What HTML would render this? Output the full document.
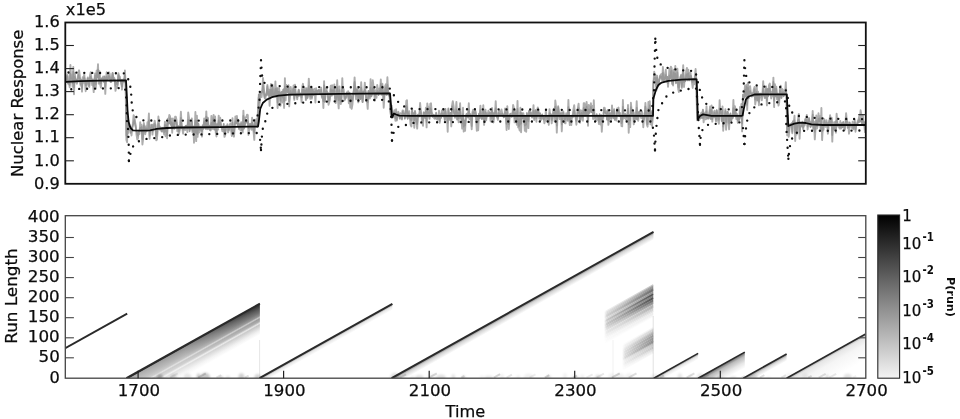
<!DOCTYPE html>
<html><head><meta charset="utf-8"><title>Changepoint detection</title>
<style>
html,body{margin:0;padding:0;background:#fff;}
body{width:960px;height:419px;overflow:hidden;}
svg{display:block;}
text{font-family:'DejaVu Sans','Liberation Sans',sans-serif;fill:#0c0c0c;stroke:#0c0c0c;stroke-width:0.25px;}
.tk{font-size:16.2px;}
.lb{font-size:16.2px;}
.cb{font-size:15px;}
.sup{font-size:11.4px;font-weight:bold;stroke-width:0;}
.pl{font-size:11.2px;font-weight:bold;stroke-width:0;}
</style></head><body>
<svg width="960" height="419" viewBox="0 0 960 419">
<defs>
<linearGradient id="cb" x1="0" y1="0" x2="0" y2="1">
<stop offset="0" stop-color="#000"/><stop offset="0.5" stop-color="#7e7e7e"/><stop offset="1" stop-color="#f4f4f4"/>
</linearGradient>
<clipPath id="ctop"><rect x="65.3" y="22.5" width="800.5" height="161.3"/></clipPath>
<clipPath id="cbot"><rect x="65.3" y="215.7" width="800.5" height="162.5"/></clipPath>

<linearGradient id="g2" gradientUnits="userSpaceOnUse" x1="126.40" y1="378.20" x2="139.60" y2="401.83"><stop offset="0.000" stop-color="#2a2a2a" stop-opacity="1"/><stop offset="0.065" stop-color="#3a3a3a" stop-opacity="1"/><stop offset="0.161" stop-color="#565656" stop-opacity="1"/><stop offset="0.290" stop-color="#747474" stop-opacity="1"/><stop offset="0.387" stop-color="#929292" stop-opacity="1"/><stop offset="0.435" stop-color="#c8c8c8" stop-opacity="1"/><stop offset="0.484" stop-color="#9c9c9c" stop-opacity="1"/><stop offset="0.565" stop-color="#adadad" stop-opacity="1"/><stop offset="0.629" stop-color="#e6e6e6" stop-opacity="1"/><stop offset="0.677" stop-color="#c6c6c6" stop-opacity="1"/><stop offset="0.774" stop-color="#dcdcdc" stop-opacity="1"/><stop offset="0.871" stop-color="#f0f0f0" stop-opacity="1"/><stop offset="1.000" stop-color="#ffffff" stop-opacity="1"/></linearGradient>
<linearGradient id="g3" gradientUnits="userSpaceOnUse" x1="259.50" y1="378.20" x2="262.05" y2="382.77"><stop offset="0.000" stop-color="#999" stop-opacity="1"/><stop offset="0.417" stop-color="#e8e8e8" stop-opacity="1"/><stop offset="1.000" stop-color="#fff" stop-opacity="1"/></linearGradient>
<linearGradient id="g4" gradientUnits="userSpaceOnUse" x1="391.60" y1="378.20" x2="395.01" y2="384.30"><stop offset="0.000" stop-color="#777" stop-opacity="1"/><stop offset="0.375" stop-color="#d4d4d4" stop-opacity="1"/><stop offset="1.000" stop-color="#fff" stop-opacity="1"/></linearGradient>
<linearGradient id="g5" gradientUnits="userSpaceOnUse" x1="653.80" y1="378.20" x2="656.35" y2="382.77"><stop offset="0.000" stop-color="#999" stop-opacity="1"/><stop offset="0.417" stop-color="#e8e8e8" stop-opacity="1"/><stop offset="1.000" stop-color="#fff" stop-opacity="1"/></linearGradient>
<linearGradient id="g6" gradientUnits="userSpaceOnUse" x1="698.10" y1="378.20" x2="704.91" y2="390.39"><stop offset="0.000" stop-color="#666" stop-opacity="1"/><stop offset="0.250" stop-color="#bbb" stop-opacity="1"/><stop offset="0.625" stop-color="#e6e6e6" stop-opacity="1"/><stop offset="1.000" stop-color="#fff" stop-opacity="1"/></linearGradient>
<linearGradient id="g7" gradientUnits="userSpaceOnUse" x1="743.30" y1="378.20" x2="746.28" y2="383.53"><stop offset="0.000" stop-color="#888" stop-opacity="1"/><stop offset="0.429" stop-color="#dcdcdc" stop-opacity="1"/><stop offset="1.000" stop-color="#fff" stop-opacity="1"/></linearGradient>
<linearGradient id="g8" gradientUnits="userSpaceOnUse" x1="786.60" y1="378.20" x2="797.67" y2="398.01"><stop offset="0.000" stop-color="#aaa" stop-opacity="1"/><stop offset="0.115" stop-color="#e6e6e6" stop-opacity="1"/><stop offset="0.385" stop-color="#f5f5f5" stop-opacity="1"/><stop offset="1.000" stop-color="#fff" stop-opacity="1"/></linearGradient>
<linearGradient id="fadeL" gradientUnits="userSpaceOnUse" x1="126" y1="0" x2="258" y2="0"><stop offset="0" stop-color="#fff" stop-opacity="0.62"/><stop offset="0.45" stop-color="#fff" stop-opacity="0.45"/><stop offset="0.8" stop-color="#fff" stop-opacity="0.15"/><stop offset="1" stop-color="#fff" stop-opacity="0"/></linearGradient>
<linearGradient id="smA" gradientUnits="userSpaceOnUse" x1="604" y1="0" x2="654" y2="0"><stop offset="0" stop-color="#000" stop-opacity="0"/><stop offset="0.06" stop-color="#000" stop-opacity="0.28"/><stop offset="0.4" stop-color="#000" stop-opacity="0.5"/><stop offset="1" stop-color="#000" stop-opacity="1"/></linearGradient>
<linearGradient id="smB" gradientUnits="userSpaceOnUse" x1="622" y1="0" x2="654" y2="0"><stop offset="0" stop-color="#000" stop-opacity="0"/><stop offset="0.1" stop-color="#000" stop-opacity="0.3"/><stop offset="0.4" stop-color="#000" stop-opacity="0.55"/><stop offset="1" stop-color="#000" stop-opacity="1"/></linearGradient>
<filter id="bl" x="-20%" y="-20%" width="140%" height="140%"><feGaussianBlur stdDeviation="0.5"/></filter>
<filter id="bl2" x="-20%" y="-50%" width="140%" height="200%"><feGaussianBlur stdDeviation="1.2"/></filter>
</defs>
<rect x="0" y="0" width="960" height="419" fill="#fff"/>

<g clip-path="url(#cbot)">
<polygon points="126.4,378.2 259.9,303.6 259.9,337.6 187.3,378.2" fill="url(#g2)" />
<polygon points="128.9,378.2 260.9,304.5 260.9,338.5 189.8,378.2" fill="url(#fadeL)" />
<polygon points="259.5,378.2 392.4,303.9 392.4,309.9 270.2,378.2" fill="url(#g3)" />
<polygon points="391.6,378.2 653.5,231.9 653.5,239.9 405.9,378.2" fill="url(#g4)" />
<polygon points="653.8,378.2 698.1,353.4 698.1,359.4 664.5,378.2" fill="url(#g5)" />
<polygon points="698.1,378.2 744.8,352.1 744.8,368.1 726.7,378.2" fill="url(#g6)" />
<polygon points="743.3,378.2 786.6,354.0 786.6,361.0 755.8,378.2" fill="url(#g7)" />
<polygon points="786.6,378.2 865.2,334.3 865.2,360.3 833.1,378.2" fill="url(#g8)" />
<g filter="url(#bl)">
<line x1="604.0" y1="312.5" x2="653.3" y2="285.0" stroke="url(#smA)" stroke-opacity="0.24" stroke-width="1.5"/>
<line x1="604.0" y1="313.8" x2="653.3" y2="286.3" stroke="url(#smA)" stroke-opacity="0.35" stroke-width="1.5"/>
<line x1="604.0" y1="315.1" x2="653.3" y2="287.6" stroke="url(#smA)" stroke-opacity="0.36" stroke-width="1.5"/>
<line x1="604.0" y1="316.4" x2="653.3" y2="288.9" stroke="url(#smA)" stroke-opacity="0.47" stroke-width="1.5"/>
<line x1="604.0" y1="317.7" x2="653.3" y2="290.2" stroke="url(#smA)" stroke-opacity="0.52" stroke-width="1.5"/>
<line x1="604.0" y1="319.0" x2="653.3" y2="291.5" stroke="url(#smA)" stroke-opacity="0.36" stroke-width="1.5"/>
<line x1="604.0" y1="320.3" x2="653.3" y2="292.8" stroke="url(#smA)" stroke-opacity="0.36" stroke-width="1.5"/>
<line x1="604.0" y1="321.6" x2="653.3" y2="294.1" stroke="url(#smA)" stroke-opacity="0.67" stroke-width="1.5"/>
<line x1="604.0" y1="322.9" x2="653.3" y2="295.4" stroke="url(#smA)" stroke-opacity="0.46" stroke-width="1.5"/>
<line x1="604.0" y1="324.2" x2="653.3" y2="296.7" stroke="url(#smA)" stroke-opacity="0.43" stroke-width="1.5"/>
<line x1="604.0" y1="325.5" x2="653.3" y2="298.0" stroke="url(#smA)" stroke-opacity="0.67" stroke-width="1.5"/>
<line x1="604.0" y1="326.8" x2="653.3" y2="299.3" stroke="url(#smA)" stroke-opacity="0.46" stroke-width="1.5"/>
<line x1="604.0" y1="328.1" x2="653.3" y2="300.6" stroke="url(#smA)" stroke-opacity="0.52" stroke-width="1.5"/>
<line x1="604.0" y1="329.4" x2="653.3" y2="301.9" stroke="url(#smA)" stroke-opacity="0.37" stroke-width="1.5"/>
<line x1="604.0" y1="330.7" x2="653.3" y2="303.2" stroke="url(#smA)" stroke-opacity="0.36" stroke-width="1.5"/>
<line x1="604.0" y1="332.0" x2="653.3" y2="304.5" stroke="url(#smA)" stroke-opacity="0.22" stroke-width="1.5"/>
<line x1="604.0" y1="333.3" x2="653.3" y2="305.8" stroke="url(#smA)" stroke-opacity="0.25" stroke-width="1.5"/>
<line x1="604.0" y1="334.6" x2="653.3" y2="307.1" stroke="url(#smA)" stroke-opacity="0.24" stroke-width="1.5"/>
<line x1="604.0" y1="335.9" x2="653.3" y2="308.4" stroke="url(#smA)" stroke-opacity="0.15" stroke-width="1.5"/>
<line x1="604.0" y1="337.2" x2="653.3" y2="309.7" stroke="url(#smA)" stroke-opacity="0.14" stroke-width="1.5"/>
<line x1="604.0" y1="338.5" x2="653.3" y2="311.0" stroke="url(#smA)" stroke-opacity="0.10" stroke-width="1.5"/>
<line x1="604.0" y1="339.8" x2="653.3" y2="312.3" stroke="url(#smA)" stroke-opacity="0.05" stroke-width="1.5"/>
<line x1="604.0" y1="341.1" x2="653.3" y2="313.6" stroke="url(#smA)" stroke-opacity="0.06" stroke-width="1.5"/>
<line x1="604.0" y1="342.4" x2="653.3" y2="314.9" stroke="url(#smA)" stroke-opacity="0.04" stroke-width="1.5"/>
<line x1="604.0" y1="343.7" x2="653.3" y2="316.2" stroke="url(#smA)" stroke-opacity="0.02" stroke-width="1.5"/>
<line x1="622.0" y1="345.5" x2="653.3" y2="328.0" stroke="url(#smB)" stroke-opacity="0.05" stroke-width="1.5"/>
<line x1="622.0" y1="346.8" x2="653.3" y2="329.3" stroke="url(#smB)" stroke-opacity="0.13" stroke-width="1.5"/>
<line x1="622.0" y1="348.1" x2="653.3" y2="330.6" stroke="url(#smB)" stroke-opacity="0.13" stroke-width="1.5"/>
<line x1="622.0" y1="349.4" x2="653.3" y2="331.9" stroke="url(#smB)" stroke-opacity="0.20" stroke-width="1.5"/>
<line x1="622.0" y1="350.7" x2="653.3" y2="333.2" stroke="url(#smB)" stroke-opacity="0.26" stroke-width="1.5"/>
<line x1="622.0" y1="352.0" x2="653.3" y2="334.5" stroke="url(#smB)" stroke-opacity="0.28" stroke-width="1.5"/>
<line x1="622.0" y1="353.3" x2="653.3" y2="335.8" stroke="url(#smB)" stroke-opacity="0.35" stroke-width="1.5"/>
<line x1="622.0" y1="354.6" x2="653.3" y2="337.1" stroke="url(#smB)" stroke-opacity="0.28" stroke-width="1.5"/>
<line x1="622.0" y1="355.9" x2="653.3" y2="338.4" stroke="url(#smB)" stroke-opacity="0.37" stroke-width="1.5"/>
<line x1="622.0" y1="357.2" x2="653.3" y2="339.7" stroke="url(#smB)" stroke-opacity="0.30" stroke-width="1.5"/>
<line x1="622.0" y1="358.5" x2="653.3" y2="341.0" stroke="url(#smB)" stroke-opacity="0.39" stroke-width="1.5"/>
<line x1="622.0" y1="359.8" x2="653.3" y2="342.3" stroke="url(#smB)" stroke-opacity="0.35" stroke-width="1.5"/>
<line x1="622.0" y1="361.1" x2="653.3" y2="343.6" stroke="url(#smB)" stroke-opacity="0.19" stroke-width="1.5"/>
<line x1="622.0" y1="362.4" x2="653.3" y2="344.9" stroke="url(#smB)" stroke-opacity="0.17" stroke-width="1.5"/>
<line x1="622.0" y1="363.7" x2="653.3" y2="346.2" stroke="url(#smB)" stroke-opacity="0.15" stroke-width="1.5"/>
<line x1="622.0" y1="365.0" x2="653.3" y2="347.5" stroke="url(#smB)" stroke-opacity="0.19" stroke-width="1.5"/>
<line x1="622.0" y1="366.3" x2="653.3" y2="348.8" stroke="url(#smB)" stroke-opacity="0.11" stroke-width="1.5"/>
<line x1="622.0" y1="367.6" x2="653.3" y2="350.1" stroke="url(#smB)" stroke-opacity="0.09" stroke-width="1.5"/>
<line x1="622.0" y1="368.9" x2="653.3" y2="351.4" stroke="url(#smB)" stroke-opacity="0.05" stroke-width="1.5"/>
<line x1="622.0" y1="370.2" x2="653.3" y2="352.7" stroke="url(#smB)" stroke-opacity="0.04" stroke-width="1.5"/>
</g>
<line x1="653.2" y1="316" x2="653.2" y2="378" stroke="#000" stroke-opacity="0.12" stroke-width="1"/>
<line x1="613" y1="340" x2="613" y2="378" stroke="#000" stroke-opacity="0.06" stroke-width="1"/>
<line x1="259.6" y1="340" x2="259.6" y2="378" stroke="#000" stroke-opacity="0.10" stroke-width="1"/>
<g filter="url(#bl2)">
<ellipse cx="160.0" cy="377.7" rx="3.1" ry="3.5" fill="#000" fill-opacity="0.26"/>
<ellipse cx="173.5" cy="377.7" rx="3.3" ry="3.6" fill="#000" fill-opacity="0.12"/>
<ellipse cx="187.6" cy="377.7" rx="3.7" ry="4.3" fill="#000" fill-opacity="0.10"/>
<ellipse cx="198.5" cy="377.7" rx="1.8" ry="4.3" fill="#000" fill-opacity="0.22"/>
<ellipse cx="205.2" cy="377.7" rx="4.9" ry="4.9" fill="#000" fill-opacity="0.21"/>
<ellipse cx="221.0" cy="377.7" rx="2.1" ry="1.6" fill="#000" fill-opacity="0.19"/>
<ellipse cx="228.0" cy="377.7" rx="2.2" ry="2.3" fill="#000" fill-opacity="0.09"/>
<ellipse cx="241.4" cy="377.7" rx="3.0" ry="4.4" fill="#000" fill-opacity="0.18"/>
<ellipse cx="257.6" cy="377.7" rx="3.2" ry="3.8" fill="#000" fill-opacity="0.17"/>
<ellipse cx="395.0" cy="377.7" rx="5.0" ry="5.0" fill="#000" fill-opacity="0.11"/>
<ellipse cx="412.3" cy="377.7" rx="2.6" ry="2.3" fill="#000" fill-opacity="0.06"/>
<ellipse cx="419.4" cy="377.7" rx="4.2" ry="2.9" fill="#000" fill-opacity="0.11"/>
<ellipse cx="431.6" cy="377.7" rx="4.9" ry="4.5" fill="#000" fill-opacity="0.04"/>
<ellipse cx="441.0" cy="377.7" rx="4.7" ry="3.1" fill="#000" fill-opacity="0.12"/>
<ellipse cx="453.3" cy="377.7" rx="1.8" ry="3.7" fill="#000" fill-opacity="0.11"/>
<ellipse cx="463.7" cy="377.7" rx="1.8" ry="2.7" fill="#000" fill-opacity="0.12"/>
<ellipse cx="481.8" cy="377.7" rx="1.9" ry="2.4" fill="#000" fill-opacity="0.05"/>
<ellipse cx="488.8" cy="377.7" rx="4.3" ry="2.1" fill="#000" fill-opacity="0.09"/>
<ellipse cx="501.9" cy="377.7" rx="2.2" ry="4.1" fill="#000" fill-opacity="0.05"/>
<ellipse cx="518.2" cy="377.7" rx="1.9" ry="3.0" fill="#000" fill-opacity="0.06"/>
<ellipse cx="528.5" cy="377.7" rx="4.9" ry="4.3" fill="#000" fill-opacity="0.06"/>
<ellipse cx="548.7" cy="377.7" rx="2.2" ry="2.9" fill="#000" fill-opacity="0.11"/>
<ellipse cx="565.0" cy="377.7" rx="1.9" ry="5.0" fill="#000" fill-opacity="0.06"/>
<ellipse cx="575.1" cy="377.7" rx="4.2" ry="2.7" fill="#000" fill-opacity="0.06"/>
<ellipse cx="582.3" cy="377.7" rx="1.8" ry="3.5" fill="#000" fill-opacity="0.06"/>
<ellipse cx="597.9" cy="377.7" rx="2.8" ry="3.1" fill="#000" fill-opacity="0.12"/>
<ellipse cx="611.6" cy="377.7" rx="3.5" ry="4.5" fill="#000" fill-opacity="0.05"/>
<ellipse cx="620.1" cy="377.7" rx="4.7" ry="4.4" fill="#000" fill-opacity="0.06"/>
<ellipse cx="629.1" cy="377.7" rx="4.1" ry="4.8" fill="#000" fill-opacity="0.05"/>
<ellipse cx="655.0" cy="377.7" rx="4.6" ry="3.6" fill="#000" fill-opacity="0.07"/>
<ellipse cx="662.7" cy="377.7" rx="1.6" ry="4.9" fill="#000" fill-opacity="0.06"/>
<ellipse cx="679.9" cy="377.7" rx="2.4" ry="4.4" fill="#000" fill-opacity="0.09"/>
<ellipse cx="690.6" cy="377.7" rx="2.1" ry="4.0" fill="#000" fill-opacity="0.04"/>
<ellipse cx="700.3" cy="377.7" rx="3.5" ry="4.5" fill="#000" fill-opacity="0.09"/>
<ellipse cx="710.8" cy="377.7" rx="4.7" ry="2.2" fill="#000" fill-opacity="0.04"/>
<ellipse cx="721.1" cy="377.7" rx="3.1" ry="1.7" fill="#000" fill-opacity="0.05"/>
<ellipse cx="733.0" cy="377.7" rx="3.5" ry="2.0" fill="#000" fill-opacity="0.07"/>
<ellipse cx="753.2" cy="377.7" rx="4.9" ry="3.8" fill="#000" fill-opacity="0.10"/>
<ellipse cx="768.6" cy="377.7" rx="2.0" ry="1.6" fill="#000" fill-opacity="0.04"/>
<ellipse cx="789.1" cy="377.7" rx="4.0" ry="4.9" fill="#000" fill-opacity="0.04"/>
<ellipse cx="805.3" cy="377.7" rx="3.2" ry="4.1" fill="#000" fill-opacity="0.06"/>
<ellipse cx="827.3" cy="377.7" rx="1.8" ry="3.4" fill="#000" fill-opacity="0.10"/>
<ellipse cx="847.7" cy="377.7" rx="4.1" ry="4.0" fill="#000" fill-opacity="0.11"/>
</g>
<g filter="url(#bl)" stroke="#000" stroke-width="2">
<line x1="400.0" y1="377.7" x2="406.1" y2="374.3" stroke-opacity="0.15"/>
<line x1="429.1" y1="377.7" x2="436.8" y2="373.4" stroke-opacity="0.15"/>
<line x1="461.2" y1="377.7" x2="464.4" y2="375.9" stroke-opacity="0.12"/>
<line x1="493.9" y1="377.7" x2="500.1" y2="374.2" stroke-opacity="0.17"/>
<line x1="506.6" y1="377.7" x2="511.9" y2="374.7" stroke-opacity="0.10"/>
<line x1="529.6" y1="377.7" x2="535.5" y2="374.4" stroke-opacity="0.07"/>
<line x1="544.8" y1="377.7" x2="549.2" y2="375.2" stroke-opacity="0.17"/>
<line x1="573.2" y1="377.7" x2="577.0" y2="375.6" stroke-opacity="0.16"/>
<line x1="586.5" y1="377.7" x2="592.6" y2="374.3" stroke-opacity="0.08"/>
<line x1="596.6" y1="377.7" x2="603.9" y2="373.6" stroke-opacity="0.09"/>
<line x1="611.8" y1="377.7" x2="619.7" y2="373.3" stroke-opacity="0.17"/>
<line x1="628.7" y1="377.7" x2="636.5" y2="373.3" stroke-opacity="0.13"/>
<line x1="660.0" y1="377.7" x2="664.0" y2="375.5" stroke-opacity="0.14"/>
<line x1="686.6" y1="377.7" x2="694.4" y2="373.3" stroke-opacity="0.13"/>
<line x1="703.7" y1="377.7" x2="708.6" y2="375.0" stroke-opacity="0.07"/>
<line x1="717.2" y1="377.7" x2="720.6" y2="375.8" stroke-opacity="0.08"/>
<line x1="741.7" y1="377.7" x2="744.7" y2="376.0" stroke-opacity="0.11"/>
<line x1="759.8" y1="377.7" x2="764.4" y2="375.2" stroke-opacity="0.13"/>
<line x1="781.4" y1="377.7" x2="785.9" y2="375.1" stroke-opacity="0.10"/>
<line x1="808.3" y1="377.7" x2="811.6" y2="375.9" stroke-opacity="0.14"/>
<line x1="818.8" y1="377.7" x2="825.6" y2="373.9" stroke-opacity="0.13"/>
<line x1="829.3" y1="377.7" x2="836.2" y2="373.8" stroke-opacity="0.09"/>
<line x1="853.1" y1="377.7" x2="856.2" y2="376.0" stroke-opacity="0.06"/>
<line x1="170.0" y1="377.7" x2="177.8" y2="373.4" stroke-opacity="0.08"/>
<line x1="198.1" y1="377.7" x2="205.8" y2="373.4" stroke-opacity="0.15"/>
<line x1="216.4" y1="377.7" x2="221.2" y2="375.0" stroke-opacity="0.11"/>
<line x1="245.0" y1="377.7" x2="248.6" y2="375.7" stroke-opacity="0.13"/>
</g>
<line x1="65.3" y1="348.2" x2="127.2" y2="313.6" stroke="#2a2a2a" stroke-width="1.9"/>
<line x1="126.4" y1="378.2" x2="259.9" y2="303.6" stroke="#2a2a2a" stroke-width="1.9"/>
<line x1="259.5" y1="378.2" x2="392.4" y2="303.9" stroke="#2a2a2a" stroke-width="1.9"/>
<line x1="391.6" y1="378.2" x2="653.5" y2="231.9" stroke="#2a2a2a" stroke-width="1.9"/>
<line x1="653.8" y1="378.2" x2="698.1" y2="353.4" stroke="#2a2a2a" stroke-width="1.6"/>
<line x1="698.1" y1="378.2" x2="744.8" y2="352.1" stroke="#2a2a2a" stroke-width="1.6"/>
<line x1="743.3" y1="378.2" x2="786.6" y2="354.0" stroke="#2a2a2a" stroke-width="1.6"/>
<line x1="786.6" y1="378.2" x2="865.2" y2="334.3" stroke="#2a2a2a" stroke-width="1.6"/>
</g>
<rect x="65.3" y="215.7" width="800.5" height="162.5" fill="none" stroke="#444" stroke-width="1.3"/>
<line x1="65.3" y1="357.8" x2="73.9" y2="357.8" stroke="#444" stroke-width="1.1"/>
<line x1="858.2" y1="357.8" x2="865.8" y2="357.8" stroke="#444" stroke-width="1.1"/>
<line x1="65.3" y1="337.8" x2="73.9" y2="337.8" stroke="#444" stroke-width="1.1"/>
<line x1="858.2" y1="337.8" x2="865.8" y2="337.8" stroke="#444" stroke-width="1.1"/>
<line x1="65.3" y1="317.7" x2="73.9" y2="317.7" stroke="#444" stroke-width="1.1"/>
<line x1="858.2" y1="317.7" x2="865.8" y2="317.7" stroke="#444" stroke-width="1.1"/>
<line x1="65.3" y1="297.7" x2="73.9" y2="297.7" stroke="#444" stroke-width="1.1"/>
<line x1="858.2" y1="297.7" x2="865.8" y2="297.7" stroke="#444" stroke-width="1.1"/>
<line x1="65.3" y1="277.6" x2="73.9" y2="277.6" stroke="#444" stroke-width="1.1"/>
<line x1="858.2" y1="277.6" x2="865.8" y2="277.6" stroke="#444" stroke-width="1.1"/>
<line x1="65.3" y1="257.5" x2="73.9" y2="257.5" stroke="#444" stroke-width="1.1"/>
<line x1="858.2" y1="257.5" x2="865.8" y2="257.5" stroke="#444" stroke-width="1.1"/>
<line x1="65.3" y1="237.5" x2="73.9" y2="237.5" stroke="#444" stroke-width="1.1"/>
<line x1="858.2" y1="237.5" x2="865.8" y2="237.5" stroke="#444" stroke-width="1.1"/>
<line x1="138.1" y1="378.2" x2="138.1" y2="370.7" stroke="#222" stroke-width="1.2"/>
<line x1="283.6" y1="378.2" x2="283.6" y2="370.7" stroke="#222" stroke-width="1.2"/>
<line x1="429.2" y1="378.2" x2="429.2" y2="370.7" stroke="#222" stroke-width="1.2"/>
<line x1="574.7" y1="378.2" x2="574.7" y2="370.7" stroke="#222" stroke-width="1.2"/>
<line x1="720.3" y1="378.2" x2="720.3" y2="370.7" stroke="#222" stroke-width="1.2"/>
<text id="r0" class="tk" x="59.8" y="382.5" text-anchor="end">0</text>
<text id="r50" class="tk" x="59.8" y="362.4" text-anchor="end" textLength="21.3" lengthAdjust="spacingAndGlyphs">50</text>
<text id="r100" class="tk" x="59.8" y="342.4" text-anchor="end" textLength="32.0" lengthAdjust="spacingAndGlyphs">100</text>
<text id="r150" class="tk" x="59.8" y="322.3" text-anchor="end" textLength="32.0" lengthAdjust="spacingAndGlyphs">150</text>
<text id="r200" class="tk" x="59.8" y="302.3" text-anchor="end" textLength="32.0" lengthAdjust="spacingAndGlyphs">200</text>
<text id="r250" class="tk" x="59.8" y="282.2" text-anchor="end" textLength="32.0" lengthAdjust="spacingAndGlyphs">250</text>
<text id="r300" class="tk" x="59.8" y="262.1" text-anchor="end" textLength="32.0" lengthAdjust="spacingAndGlyphs">300</text>
<text id="r350" class="tk" x="59.8" y="242.1" text-anchor="end" textLength="32.0" lengthAdjust="spacingAndGlyphs">350</text>
<text id="r400" class="tk" x="59.8" y="222.0" text-anchor="end" textLength="32.0" lengthAdjust="spacingAndGlyphs">400</text>
<text id="t1700" class="tk" x="138.9" y="396.3" text-anchor="middle" textLength="42.3" lengthAdjust="spacingAndGlyphs">1700</text>
<text id="t1900" class="tk" x="284.4" y="396.3" text-anchor="middle" textLength="42.3" lengthAdjust="spacingAndGlyphs">1900</text>
<text id="t2100" class="tk" x="430.0" y="396.3" text-anchor="middle" textLength="42.3" lengthAdjust="spacingAndGlyphs">2100</text>
<text id="t2300" class="tk" x="575.5" y="396.3" text-anchor="middle" textLength="42.3" lengthAdjust="spacingAndGlyphs">2300</text>
<text id="t2500" class="tk" x="721.1" y="396.3" text-anchor="middle" textLength="42.3" lengthAdjust="spacingAndGlyphs">2500</text>
<text id="t2700" class="tk" x="866.6" y="396.3" text-anchor="middle" textLength="42.3" lengthAdjust="spacingAndGlyphs">2700</text>
<text id="time" class="lb" x="465.4" y="417" text-anchor="middle">Time</text>
<g transform="translate(17.1 296) rotate(-90)"><text id="runlen" class="lb" x="0" y="0" text-anchor="middle" textLength="95.5" lengthAdjust="spacingAndGlyphs">Run Length</text></g>
<rect x="877.8" y="215.0" width="21.8" height="163.2" fill="url(#cb)" stroke="#2a2a2a" stroke-width="1.1"/>
<text id="c0" class="cb" x="902.2" y="221.3" text-anchor="start">1</text>
<text id="c1" class="cb" x="902.2" y="248.5" text-anchor="start">10</text>
<text class="sup" transform="translate(922.4 240.8) scale(0.9 1.12)">-1</text>
<text id="c2" class="cb" x="902.2" y="282.1" text-anchor="start">10</text>
<text class="sup" transform="translate(922.4 274.4) scale(0.9 1.12)">-2</text>
<text id="c3" class="cb" x="902.2" y="316.0" text-anchor="start">10</text>
<text class="sup" transform="translate(922.4 308.3) scale(0.9 1.12)">-3</text>
<text id="c4" class="cb" x="902.2" y="349.4" text-anchor="start">10</text>
<text class="sup" transform="translate(922.4 341.7) scale(0.9 1.12)">-4</text>
<text id="c5" class="cb" x="902.2" y="382.8" text-anchor="start">10</text>
<text class="sup" transform="translate(922.4 375.1) scale(0.9 1.12)">-5</text>
<g transform="translate(946.6 297) rotate(90)"><text id="prun" class="pl" x="0" y="0" text-anchor="middle">P(run)</text></g>
<g clip-path="url(#ctop)" fill="none" stroke-linejoin="round">
<path d="M65.3 72.8L66.0 80.8L66.8 78.9L67.5 75.0L68.2 83.7L68.9 81.8L69.7 87.4L70.4 64.9L71.1 78.4L71.8 75.3L72.6 86.7L73.3 67.0L74.0 94.3L74.8 73.3L75.5 78.9L76.2 81.2L76.9 83.7L77.7 80.2L78.4 72.4L79.1 70.3L79.8 75.7L80.6 85.6L81.3 79.8L82.0 91.6L82.7 77.2L83.5 82.7L84.2 73.9L84.9 80.7L85.7 91.2L86.4 84.3L87.1 80.3L87.8 77.4L88.6 86.0L89.3 87.0L90.0 75.5L90.7 72.3L91.5 79.1L92.2 85.1L92.9 82.5L93.7 92.1L94.4 80.6L95.1 73.5L95.8 88.8L96.6 70.8L97.3 76.1L98.0 64.2L98.7 83.6L99.5 71.3L100.2 84.3L100.9 87.6L101.7 78.4L102.4 78.7L103.1 76.5L103.8 81.7L104.6 77.4L105.3 93.9L106.0 78.5L106.7 72.2L107.5 77.6L108.2 77.0L108.9 72.3L109.6 73.4L110.4 80.3L111.1 82.1L111.8 80.7L112.6 73.1L113.3 78.3L114.0 77.6L114.7 79.3L115.5 90.9L116.2 86.8L116.9 88.0L117.6 85.5L118.4 73.2L119.1 77.3L119.8 76.6L120.6 81.4L121.3 79.9L122.0 89.6L122.7 82.4L123.5 79.3L124.2 82.1L124.9 70.5L125.6 83.4L126.4 139.9L127.1 142.3L127.8 117.0L128.5 132.8L129.3 123.6L130.0 125.3L130.7 128.6L131.5 135.5L132.2 128.3L132.9 123.7L133.6 115.2L134.4 117.1L135.1 122.3L135.8 125.7L136.5 134.7L137.3 139.5L138.0 138.2L138.7 130.9L139.5 134.0L140.2 122.3L140.9 126.5L141.6 125.0L142.4 144.5L143.1 139.3L143.8 123.0L144.5 126.4L145.3 134.2L146.0 126.4L146.7 130.7L147.5 122.2L148.2 125.6L148.9 113.5L149.6 138.8L150.4 125.3L151.1 129.5L151.8 124.6L152.5 134.6L153.3 124.5L154.0 127.0L154.7 120.6L155.4 125.0L156.2 140.3L156.9 139.7L157.6 131.5L158.4 116.5L159.1 124.7L159.8 129.7L160.5 127.6L161.3 131.1L162.0 127.8L162.7 128.9L163.4 129.6L164.2 134.5L164.9 121.8L165.6 136.2L166.4 123.1L167.1 138.3L167.8 118.6L168.5 121.6L169.3 115.0L170.0 116.3L170.7 119.9L171.4 118.7L172.2 132.7L172.9 118.5L173.6 128.1L174.4 128.8L175.1 116.8L175.8 116.7L176.5 119.9L177.3 131.1L178.0 127.3L178.7 134.3L179.4 132.0L180.2 123.9L180.9 111.8L181.6 123.7L182.3 128.4L183.1 133.7L183.8 127.4L184.5 129.6L185.3 129.9L186.0 127.5L186.7 125.8L187.4 132.1L188.2 112.5L188.9 117.1L189.6 129.8L190.3 122.9L191.1 128.9L191.8 118.4L192.5 132.2L193.3 126.4L194.0 142.7L194.7 131.4L195.4 112.0L196.2 141.1L196.9 115.6L197.6 136.9L198.3 124.2L199.1 132.5L199.8 129.0L200.5 126.7L201.2 129.2L202.0 136.6L202.7 125.1L203.4 128.9L204.2 118.4L204.9 126.2L205.6 128.0L206.3 111.4L207.1 129.3L207.8 117.8L208.5 125.4L209.2 126.0L210.0 129.9L210.7 130.5L211.4 115.9L212.2 129.0L212.9 122.9L213.6 114.9L214.3 129.5L215.1 116.5L215.8 133.1L216.5 136.5L217.2 124.0L218.0 129.7L218.7 115.7L219.4 123.0L220.2 117.8L220.9 124.1L221.6 126.2L222.3 131.2L223.1 128.3L223.8 129.4L224.5 136.8L225.2 135.3L226.0 126.2L226.7 129.6L227.4 124.1L228.1 132.4L228.9 129.4L229.6 125.2L230.3 123.5L231.1 128.3L231.8 136.0L232.5 118.1L233.2 134.3L234.0 136.7L234.7 127.7L235.4 116.4L236.1 121.4L236.9 115.9L237.6 122.5L238.3 120.2L239.1 129.1L239.8 124.2L240.5 130.5L241.2 122.1L242.0 129.9L242.7 132.6L243.4 110.6L244.1 126.6L244.9 122.9L245.6 117.4L246.3 117.2L247.1 114.6L247.8 115.0L248.5 135.0L249.2 128.8L250.0 123.8L250.7 125.1L251.4 129.7L252.1 117.8L252.9 127.1L253.6 132.2L254.3 139.9L255.0 119.7L255.8 125.2L256.5 119.1L257.2 125.7L258.0 109.8L258.7 97.3L259.4 108.3L260.1 92.3L260.9 93.0L261.6 97.1L262.3 90.7L263.0 78.0L263.8 87.7L264.5 95.5L265.2 98.7L266.0 94.5L266.7 95.0L267.4 84.9L268.1 94.6L268.9 89.6L269.6 105.8L270.3 90.1L271.0 83.9L271.8 97.1L272.5 84.6L273.2 90.9L273.9 95.6L274.7 95.0L275.4 81.4L276.1 96.7L276.9 87.8L277.6 108.0L278.3 88.5L279.0 88.0L279.8 93.4L280.5 105.8L281.2 93.3L281.9 92.8L282.7 102.5L283.4 89.7L284.1 107.9L284.9 78.1L285.6 100.2L286.3 85.0L287.0 91.4L287.8 88.6L288.5 85.2L289.2 106.4L289.9 95.6L290.7 86.9L291.4 93.7L292.1 89.8L292.9 92.7L293.6 85.4L294.3 99.9L295.0 84.8L295.8 93.3L296.5 94.4L297.2 99.3L297.9 94.5L298.7 89.6L299.4 95.8L300.1 93.8L300.8 94.8L301.6 102.2L302.3 86.5L303.0 83.8L303.8 94.3L304.5 88.7L305.2 88.2L305.9 100.1L306.7 88.2L307.4 98.3L308.1 94.4L308.8 78.6L309.6 91.1L310.3 98.8L311.0 86.9L311.8 98.6L312.5 88.8L313.2 95.4L313.9 90.5L314.7 88.8L315.4 102.5L316.1 88.1L316.8 93.0L317.6 91.1L318.3 92.9L319.0 90.0L319.7 92.8L320.5 92.7L321.2 87.8L321.9 97.7L322.7 94.0L323.4 108.0L324.1 81.2L324.8 101.7L325.6 95.0L326.3 87.3L327.0 92.7L327.7 92.7L328.5 104.8L329.2 102.4L329.9 100.0L330.7 85.8L331.4 95.6L332.1 85.2L332.8 95.2L333.6 89.5L334.3 84.4L335.0 95.1L335.7 103.1L336.5 94.9L337.2 80.2L337.9 98.3L338.7 108.4L339.4 86.4L340.1 99.0L340.8 104.1L341.6 97.7L342.3 78.1L343.0 93.0L343.7 89.3L344.5 100.4L345.2 98.7L345.9 97.7L346.6 93.3L347.4 96.6L348.1 91.3L348.8 103.3L349.6 94.4L350.3 107.5L351.0 96.6L351.7 108.9L352.5 104.0L353.2 94.8L353.9 89.7L354.6 77.4L355.4 93.8L356.1 99.4L356.8 92.3L357.6 86.9L358.3 102.4L359.0 94.6L359.7 90.3L360.5 98.2L361.2 82.3L361.9 94.5L362.6 102.0L363.4 91.9L364.1 93.8L364.8 82.6L365.6 93.6L366.3 100.8L367.0 101.3L367.7 108.9L368.5 91.0L369.2 95.9L369.9 98.5L370.6 79.1L371.4 95.0L372.1 92.5L372.8 80.3L373.5 86.3L374.3 95.1L375.0 100.6L375.7 90.3L376.5 97.7L377.2 85.0L377.9 89.6L378.6 93.9L379.4 88.4L380.1 92.1L380.8 79.5L381.5 94.9L382.3 83.7L383.0 92.2L383.7 107.7L384.5 95.0L385.2 86.0L385.9 84.2L386.6 95.0L387.4 77.3L388.1 90.8L388.8 95.3L389.5 93.3L390.3 107.5L391.0 115.8L391.7 105.6L392.4 111.1L393.2 114.5L393.9 114.3L394.6 110.2L395.4 120.8L396.1 109.3L396.8 120.6L397.5 112.7L398.3 111.8L399.0 115.5L399.7 116.5L400.4 113.1L401.2 118.5L401.9 119.5L402.6 110.4L403.4 110.6L404.1 115.1L404.8 116.0L405.5 117.4L406.3 101.0L407.0 100.2L407.7 118.3L408.4 115.5L409.2 111.2L409.9 116.3L410.6 124.9L411.4 126.5L412.1 108.8L412.8 116.2L413.5 117.6L414.3 127.8L415.0 111.0L415.7 114.9L416.4 121.9L417.2 128.6L417.9 116.4L418.6 114.5L419.3 115.7L420.1 102.9L420.8 111.2L421.5 116.8L422.3 122.8L423.0 125.9L423.7 112.3L424.4 115.9L425.2 117.2L425.9 107.8L426.6 127.4L427.3 103.4L428.1 108.1L428.8 107.5L429.5 118.9L430.3 103.8L431.0 103.3L431.7 112.1L432.4 114.5L433.2 115.8L433.9 117.7L434.6 118.8L435.3 118.6L436.1 114.7L436.8 119.3L437.5 119.7L438.3 117.9L439.0 110.7L439.7 122.7L440.4 114.0L441.2 114.2L441.9 110.4L442.6 115.4L443.3 116.4L444.1 109.3L444.8 119.9L445.5 111.6L446.2 115.6L447.0 115.9L447.7 131.8L448.4 108.4L449.2 119.9L449.9 119.9L450.6 112.9L451.3 126.4L452.1 105.2L452.8 101.2L453.5 105.3L454.2 112.9L455.0 117.8L455.7 112.7L456.4 101.9L457.2 119.6L457.9 110.9L458.6 122.3L459.3 113.4L460.1 103.3L460.8 118.6L461.5 119.3L462.2 128.6L463.0 107.7L463.7 131.6L464.4 125.5L465.1 130.9L465.9 116.3L466.6 113.9L467.3 113.4L468.1 116.5L468.8 103.3L469.5 119.1L470.2 114.0L471.0 118.2L471.7 129.2L472.4 112.2L473.1 109.8L473.9 113.3L474.6 116.3L475.3 110.6L476.1 118.9L476.8 130.7L477.5 121.2L478.2 130.3L479.0 114.3L479.7 115.5L480.4 105.6L481.1 117.8L481.9 119.1L482.6 115.9L483.3 105.2L484.1 124.9L484.8 113.7L485.5 109.7L486.2 120.3L487.0 113.1L487.7 115.6L488.4 110.7L489.1 114.6L489.9 112.1L490.6 121.1L491.3 121.7L492.0 108.0L492.8 116.7L493.5 122.5L494.2 112.9L495.0 114.8L495.7 101.1L496.4 113.1L497.1 116.9L497.9 119.9L498.6 112.1L499.3 110.7L500.0 111.7L500.8 113.6L501.5 109.5L502.2 113.6L503.0 115.0L503.7 116.5L504.4 115.8L505.1 108.4L505.9 116.8L506.6 130.0L507.3 106.2L508.0 119.0L508.8 129.0L509.5 118.9L510.2 114.5L511.0 113.5L511.7 114.8L512.4 116.3L513.1 105.0L513.9 108.0L514.6 122.4L515.3 111.1L516.0 112.0L516.8 124.8L517.5 100.9L518.2 127.4L518.9 127.3L519.7 130.6L520.4 107.8L521.1 132.2L521.9 113.0L522.6 117.1L523.3 113.2L524.0 116.4L524.8 130.8L525.5 122.6L526.2 131.8L526.9 112.9L527.7 118.8L528.4 128.1L529.1 111.3L529.9 111.6L530.6 112.1L531.3 112.3L532.0 116.3L532.8 115.2L533.5 105.1L534.2 120.0L534.9 115.3L535.7 110.0L536.4 121.7L537.1 110.2L537.8 107.4L538.6 110.3L539.3 118.7L540.0 113.5L540.8 120.3L541.5 119.1L542.2 115.3L542.9 118.5L543.7 118.4L544.4 123.3L545.1 120.2L545.8 110.5L546.6 117.1L547.3 121.1L548.0 117.6L548.8 124.8L549.5 109.1L550.2 116.0L550.9 114.6L551.7 123.3L552.4 117.4L553.1 111.3L553.8 108.6L554.6 121.4L555.3 100.5L556.0 106.4L556.8 132.6L557.5 117.2L558.2 106.3L558.9 111.5L559.7 119.1L560.4 115.6L561.1 112.3L561.8 131.4L562.6 113.0L563.3 111.4L564.0 117.7L564.7 123.0L565.5 123.3L566.2 113.2L566.9 115.9L567.7 120.9L568.4 99.9L569.1 116.6L569.8 125.1L570.6 121.7L571.3 125.1L572.0 115.4L572.7 117.4L573.5 109.1L574.2 105.1L574.9 114.3L575.7 118.3L576.4 124.7L577.1 114.5L577.8 108.4L578.6 103.6L579.3 114.6L580.0 122.7L580.7 110.2L581.5 110.8L582.2 119.7L582.9 120.7L583.7 103.1L584.4 103.1L585.1 114.4L585.8 112.5L586.6 101.9L587.3 109.8L588.0 125.7L588.7 104.9L589.5 112.7L590.2 110.1L590.9 103.3L591.6 110.0L592.4 105.9L593.1 119.0L593.8 100.2L594.6 118.6L595.3 118.1L596.0 121.0L596.7 116.5L597.5 119.8L598.2 116.1L598.9 124.0L599.6 115.2L600.4 124.5L601.1 114.9L601.8 131.7L602.6 119.9L603.3 118.4L604.0 107.6L604.7 107.9L605.5 111.6L606.2 112.0L606.9 117.5L607.6 110.4L608.4 124.9L609.1 120.0L609.8 113.0L610.5 113.6L611.3 119.5L612.0 105.4L612.7 114.9L613.5 118.2L614.2 109.2L614.9 120.0L615.6 119.1L616.4 120.5L617.1 108.4L617.8 109.0L618.5 107.6L619.3 115.6L620.0 113.0L620.7 115.8L621.5 126.2L622.2 126.4L622.9 100.0L623.6 118.5L624.4 117.9L625.1 113.7L625.8 119.2L626.5 120.2L627.3 118.0L628.0 105.0L628.7 132.7L629.5 115.8L630.2 127.1L630.9 102.8L631.6 110.0L632.4 114.6L633.1 111.2L633.8 124.4L634.5 118.9L635.3 112.5L636.0 116.2L636.7 101.3L637.4 117.5L638.2 120.9L638.9 113.9L639.6 113.4L640.4 116.3L641.1 118.0L641.8 111.3L642.5 113.6L643.3 127.3L644.0 117.5L644.7 116.3L645.4 102.9L646.2 115.0L646.9 124.6L647.6 126.7L648.4 102.0L649.1 113.2L649.8 101.2L650.5 124.4L651.3 111.2L652.0 125.9L652.7 119.1L653.4 84.0L654.2 71.7L654.9 75.4L655.6 75.0L656.4 90.5L657.1 75.6L657.8 80.3L658.5 85.4L659.3 79.8L660.0 78.3L660.7 74.6L661.4 74.0L662.2 80.6L662.9 67.0L663.6 81.0L664.3 78.8L665.1 74.9L665.8 69.6L666.5 80.8L667.3 77.1L668.0 86.8L668.7 79.7L669.4 68.7L670.2 74.0L670.9 66.6L671.6 68.2L672.3 83.2L673.1 85.5L673.8 69.6L674.5 77.6L675.3 66.0L676.0 81.7L676.7 79.9L677.4 68.7L678.2 89.1L678.9 92.0L679.6 79.5L680.3 81.7L681.1 74.8L681.8 87.9L682.5 78.2L683.2 65.3L684.0 87.0L684.7 79.6L685.4 79.5L686.2 71.0L686.9 67.9L687.6 80.4L688.3 69.7L689.1 77.3L689.8 75.0L690.5 72.5L691.2 78.5L692.0 82.7L692.7 88.0L693.4 80.7L694.2 84.4L694.9 76.1L695.6 69.0L696.3 79.7L697.1 120.3L697.8 119.4L698.5 117.5L699.2 114.9L700.0 118.8L700.7 115.3L701.4 112.6L702.2 115.0L702.9 110.2L703.6 122.3L704.3 116.5L705.1 112.5L705.8 119.3L706.5 106.3L707.2 118.5L708.0 116.3L708.7 118.6L709.4 112.2L710.1 106.4L710.9 118.4L711.6 105.5L712.3 121.6L713.1 112.3L713.8 117.1L714.5 110.7L715.2 116.3L716.0 121.6L716.7 110.5L717.4 119.2L718.1 120.7L718.9 123.8L719.6 100.3L720.3 110.9L721.1 112.3L721.8 121.3L722.5 106.4L723.2 130.8L724.0 119.3L724.7 117.9L725.4 109.2L726.1 129.7L726.9 117.8L727.6 111.7L728.3 119.7L729.1 129.3L729.8 115.0L730.5 114.3L731.2 120.3L732.0 117.1L732.7 118.0L733.4 100.0L734.1 115.7L734.9 106.2L735.6 110.5L736.3 119.0L737.0 114.0L737.8 122.9L738.5 118.1L739.2 119.9L740.0 107.0L740.7 115.8L741.4 104.0L742.1 131.4L742.9 99.6L743.6 96.7L744.3 94.3L745.0 85.7L745.8 95.3L746.5 84.8L747.2 109.9L748.0 82.6L748.7 96.4L749.4 87.9L750.1 86.2L750.9 92.9L751.6 94.7L752.3 96.3L753.0 95.1L753.8 89.2L754.5 87.0L755.2 104.5L755.9 100.0L756.7 86.0L757.4 100.3L758.1 91.8L758.9 105.3L759.6 95.1L760.3 93.5L761.0 95.7L761.8 100.3L762.5 93.2L763.2 81.2L763.9 93.8L764.7 98.0L765.4 96.7L766.1 86.4L766.9 105.4L767.6 90.0L768.3 96.3L769.0 85.1L769.8 83.5L770.5 92.3L771.2 98.5L771.9 91.6L772.7 96.4L773.4 77.6L774.1 107.1L774.9 84.1L775.6 93.8L776.3 86.6L777.0 99.3L777.8 97.4L778.5 105.6L779.2 102.5L779.9 87.9L780.7 85.7L781.4 98.0L782.1 89.0L782.8 89.7L783.6 95.7L784.3 92.9L785.0 94.9L785.8 82.1L786.5 98.9L787.2 135.4L787.9 115.4L788.7 136.9L789.4 130.2L790.1 125.1L790.8 124.9L791.6 123.9L792.3 133.2L793.0 121.5L793.8 123.0L794.5 115.8L795.2 141.0L795.9 124.7L796.7 134.5L797.4 124.2L798.1 118.8L798.8 114.0L799.6 138.8L800.3 123.1L801.0 124.6L801.8 126.5L802.5 121.7L803.2 129.4L803.9 123.1L804.7 125.5L805.4 119.0L806.1 122.4L806.8 114.9L807.6 129.5L808.3 124.1L809.0 117.9L809.7 122.4L810.5 126.8L811.2 121.9L811.9 125.5L812.7 111.0L813.4 129.4L814.1 121.6L814.8 139.4L815.6 127.9L816.3 115.5L817.0 128.5L817.7 126.1L818.5 113.3L819.2 121.0L819.9 116.1L820.7 130.4L821.4 108.0L822.1 140.1L822.8 128.2L823.6 129.6L824.3 119.1L825.0 124.7L825.7 126.9L826.5 120.1L827.2 124.8L827.9 133.7L828.6 127.4L829.4 121.0L830.1 115.2L830.8 124.1L831.6 117.6L832.3 141.6L833.0 122.3L833.7 129.0L834.5 129.6L835.2 121.8L835.9 132.6L836.6 113.7L837.4 122.4L838.1 126.7L838.8 125.2L839.6 128.6L840.3 121.0L841.0 128.5L841.7 126.0L842.5 126.7L843.2 122.8L843.9 124.4L844.6 130.0L845.4 123.9L846.1 113.1L846.8 120.8L847.6 121.8L848.3 123.9L849.0 133.7L849.7 125.2L850.5 125.7L851.2 125.7L851.9 128.0L852.6 121.8L853.4 129.4L854.1 126.3L854.8 119.9L855.5 131.7L856.3 124.8L857.0 125.1L857.7 120.8L858.5 119.7L859.2 116.3L859.9 118.5L860.6 110.3L861.4 115.2L862.1 123.9L862.8 114.9L863.5 123.9L864.3 125.3L865.0 132.1L865.7 127.0" stroke="#adadad" stroke-width="1.9"/>
<path d="M65.3 76.5L66.0 80.7L66.8 82.2L67.5 76.2L68.2 83.5L68.9 80.8L69.7 85.2L70.4 73.5L71.1 78.3L71.8 78.3L72.6 83.5L73.3 71.5L74.0 87.4L74.8 76.8L75.5 79.1L76.2 79.7L76.9 81.1L77.7 81.6L78.4 74.8L79.1 76.8L79.8 78.4L80.6 84.3L81.3 79.7L82.0 88.3L82.7 80.0L83.5 80.7L84.2 77.2L84.9 79.5L85.7 85.2L86.4 84.9L87.1 81.1L87.8 78.5L88.6 81.9L89.3 85.8L90.0 77.7L90.7 76.7L91.5 79.3L92.2 81.3L92.9 79.2L93.7 86.8L94.4 82.1L95.1 75.8L95.8 84.4L96.6 73.4L97.3 77.3L98.0 69.5L98.7 79.0L99.5 74.8L100.2 83.3L100.9 83.4L101.7 78.7L102.4 78.0L103.1 78.9L103.8 81.6L104.6 76.3L105.3 87.2L106.0 79.4L106.7 76.7L107.5 79.8L108.2 78.9L108.9 75.9L109.6 76.9L110.4 82.0L111.1 80.4L111.8 79.0L112.6 72.9L113.3 77.9L114.0 80.4L114.7 80.5L115.5 85.8L116.2 83.1L116.9 82.3L117.6 84.7L118.4 74.8L119.1 77.9L119.8 79.3L120.6 80.1L121.3 84.1L122.0 86.4L122.7 80.2L123.5 80.5L124.2 80.4L124.9 75.1L125.6 84.6L126.4 135.6L127.1 137.6L127.8 123.3L128.5 130.2L129.3 127.2L130.0 128.7L130.7 132.9L131.5 131.5L132.2 127.9L132.9 125.2L133.6 122.5L134.4 120.1L135.1 124.5L135.8 128.1L136.5 130.4L137.3 134.2L138.0 135.8L138.7 132.2L139.5 130.0L140.2 127.8L140.9 128.1L141.6 126.9L142.4 139.2L143.1 136.6L143.8 125.4L144.5 128.7L145.3 132.1L146.0 128.0L146.7 131.4L147.5 128.3L148.2 129.2L148.9 120.4L149.6 136.0L150.4 127.5L151.1 130.3L151.8 125.1L152.5 131.7L153.3 127.5L154.0 125.4L154.7 123.9L155.4 125.0L156.2 136.1L156.9 134.1L157.6 128.9L158.4 123.5L159.1 126.2L159.8 127.3L160.5 128.6L161.3 128.6L162.0 131.8L162.7 127.8L163.4 128.4L164.2 132.1L164.9 124.8L165.6 131.4L166.4 125.4L167.1 135.2L167.8 121.7L168.5 123.8L169.3 123.1L170.0 118.3L170.7 124.9L171.4 122.3L172.2 128.8L172.9 123.1L173.6 127.3L174.4 126.4L175.1 120.6L175.8 121.2L176.5 122.2L177.3 127.1L178.0 125.6L178.7 131.3L179.4 130.7L180.2 127.0L180.9 117.8L181.6 128.0L182.3 127.5L183.1 129.7L183.8 127.8L184.5 128.6L185.3 126.3L186.0 125.5L186.7 126.6L187.4 128.1L188.2 119.8L188.9 121.4L189.6 131.4L190.3 125.4L191.1 127.5L191.8 121.6L192.5 131.0L193.3 127.0L194.0 134.6L194.7 131.7L195.4 120.3L196.2 132.9L196.9 120.8L197.6 134.1L198.3 123.4L199.1 129.6L199.8 128.8L200.5 129.6L201.2 128.4L202.0 131.1L202.7 125.9L203.4 128.6L204.2 121.3L204.9 125.5L205.6 128.9L206.3 116.6L207.1 128.4L207.8 118.2L208.5 129.0L209.2 125.5L210.0 130.1L210.7 127.6L211.4 122.7L212.2 127.8L212.9 121.6L213.6 118.4L214.3 129.5L215.1 120.3L215.8 128.5L216.5 133.3L217.2 124.6L218.0 126.9L218.7 120.3L219.4 125.4L220.2 122.4L220.9 126.5L221.6 126.9L222.3 129.2L223.1 129.0L223.8 123.9L224.5 132.3L225.2 132.2L226.0 126.0L226.7 127.1L227.4 125.5L228.1 128.8L228.9 130.0L229.6 126.4L230.3 127.2L231.1 127.6L231.8 133.0L232.5 122.6L233.2 130.5L234.0 133.3L234.7 125.2L235.4 121.3L236.1 123.3L236.9 118.8L237.6 126.4L238.3 123.2L239.1 128.3L239.8 124.6L240.5 127.7L241.2 123.2L242.0 130.4L242.7 129.7L243.4 115.8L244.1 128.6L244.9 125.2L245.6 120.9L246.3 119.8L247.1 123.0L247.8 121.5L248.5 128.3L249.2 127.5L250.0 124.1L250.7 124.8L251.4 127.8L252.1 122.5L252.9 124.7L253.6 130.7L254.3 132.4L255.0 122.1L255.8 125.1L256.5 123.2L257.2 127.1L258.0 118.3L258.7 94.2L259.4 102.4L260.1 92.6L260.9 93.1L261.6 92.3L262.3 92.0L263.0 84.9L263.8 92.3L264.5 98.0L265.2 94.6L266.0 95.7L266.7 91.6L267.4 86.0L268.1 94.9L268.9 92.0L269.6 97.6L270.3 89.7L271.0 89.8L271.8 97.5L272.5 86.7L273.2 95.0L273.9 95.2L274.7 93.4L275.4 88.8L276.1 95.3L276.9 88.9L277.6 102.8L278.3 91.7L279.0 92.2L279.8 92.1L280.5 100.6L281.2 93.7L281.9 91.6L282.7 97.6L283.4 89.2L284.1 101.4L284.9 86.6L285.6 95.0L286.3 88.8L287.0 90.7L287.8 92.6L288.5 87.4L289.2 101.4L289.9 94.1L290.7 90.9L291.4 94.7L292.1 94.7L292.9 91.6L293.6 87.9L294.3 98.8L295.0 89.5L295.8 94.3L296.5 95.7L297.2 97.1L297.9 95.9L298.7 89.8L299.4 92.0L300.1 93.9L300.8 93.9L301.6 97.5L302.3 89.7L303.0 89.4L303.8 94.2L304.5 90.4L305.2 90.5L305.9 99.2L306.7 89.0L307.4 97.7L308.1 95.1L308.8 86.1L309.6 91.8L310.3 96.6L311.0 88.8L311.8 97.3L312.5 89.9L313.2 92.9L313.9 91.6L314.7 92.0L315.4 94.0L316.1 90.2L316.8 93.1L317.6 91.0L318.3 90.1L319.0 89.9L319.7 93.8L320.5 94.4L321.2 89.8L321.9 96.5L322.7 93.3L323.4 101.3L324.1 85.4L324.8 101.6L325.6 92.9L326.3 90.9L327.0 92.0L327.7 92.4L328.5 101.0L329.2 100.0L329.9 96.7L330.7 89.1L331.4 95.4L332.1 90.0L332.8 93.8L333.6 91.2L334.3 88.7L335.0 98.4L335.7 100.9L336.5 96.1L337.2 87.4L337.9 96.5L338.7 100.3L339.4 90.1L340.1 99.8L340.8 101.8L341.6 95.5L342.3 86.5L343.0 91.9L343.7 92.9L344.5 96.7L345.2 98.8L345.9 97.3L346.6 92.4L347.4 94.9L348.1 92.8L348.8 100.6L349.6 92.5L350.3 102.3L351.0 95.2L351.7 101.5L352.5 100.4L353.2 95.1L353.9 89.5L354.6 81.8L355.4 91.5L356.1 96.0L356.8 89.4L357.6 91.6L358.3 99.3L359.0 94.5L359.7 92.0L360.5 99.3L361.2 87.6L361.9 92.5L362.6 102.1L363.4 91.7L364.1 91.5L364.8 89.7L365.6 91.2L366.3 98.5L367.0 100.2L367.7 102.3L368.5 91.0L369.2 95.0L369.9 96.9L370.6 87.4L371.4 96.4L372.1 94.4L372.8 88.3L373.5 88.9L374.3 93.9L375.0 95.9L375.7 92.8L376.5 94.1L377.2 90.9L377.9 91.9L378.6 95.2L379.4 90.9L380.1 92.0L380.8 83.8L381.5 91.6L382.3 85.3L383.0 92.0L383.7 99.1L384.5 95.2L385.2 90.2L385.9 87.2L386.6 93.6L387.4 84.9L388.1 93.1L388.8 95.6L389.5 94.7L390.3 111.1L391.0 116.7L391.7 109.7L392.4 115.3L393.2 117.3L393.9 114.8L394.6 113.6L395.4 118.3L396.1 112.4L396.8 119.6L397.5 114.1L398.3 113.4L399.0 115.4L399.7 118.8L400.4 115.9L401.2 115.8L401.9 118.9L402.6 111.6L403.4 114.6L404.1 113.6L404.8 118.8L405.5 113.7L406.3 105.9L407.0 106.9L407.7 119.0L408.4 113.1L409.2 114.6L409.9 117.9L410.6 119.7L411.4 120.2L412.1 110.6L412.8 116.5L413.5 113.1L414.3 120.1L415.0 111.2L415.7 117.4L416.4 120.4L417.2 124.0L417.9 114.5L418.6 117.0L419.3 116.4L420.1 108.6L420.8 111.5L421.5 115.8L422.3 118.8L423.0 120.7L423.7 112.7L424.4 112.7L425.2 118.3L425.9 111.0L426.6 122.3L427.3 107.8L428.1 113.7L428.8 112.6L429.5 118.1L430.3 108.3L431.0 109.4L431.7 114.5L432.4 116.9L433.2 115.1L433.9 114.5L434.6 116.4L435.3 118.1L436.1 112.6L436.8 115.9L437.5 118.4L438.3 115.2L439.0 117.1L439.7 121.1L440.4 115.1L441.2 117.9L441.9 113.0L442.6 114.4L443.3 115.8L444.1 113.2L444.8 120.2L445.5 108.7L446.2 117.5L447.0 116.0L447.7 122.9L448.4 109.1L449.2 118.4L449.9 118.9L450.6 112.8L451.3 121.0L452.1 106.3L452.8 109.5L453.5 110.1L454.2 113.8L455.0 116.5L455.7 112.6L456.4 109.4L457.2 119.2L457.9 112.9L458.6 118.2L459.3 114.9L460.1 109.1L460.8 117.8L461.5 117.8L462.2 123.4L463.0 114.1L463.7 126.8L464.4 120.6L465.1 125.5L465.9 118.3L466.6 114.0L467.3 115.3L468.1 117.8L468.8 109.3L469.5 116.3L470.2 114.6L471.0 117.7L471.7 126.1L472.4 114.4L473.1 111.9L473.9 114.0L474.6 113.2L475.3 110.8L476.1 114.5L476.8 123.5L477.5 115.7L478.2 121.6L479.0 113.5L479.7 118.3L480.4 110.1L481.1 115.5L481.9 118.7L482.6 117.6L483.3 109.9L484.1 121.9L484.8 116.8L485.5 112.1L486.2 118.8L487.0 114.1L487.7 116.0L488.4 114.8L489.1 113.3L489.9 112.9L490.6 116.0L491.3 117.9L492.0 109.2L492.8 116.9L493.5 119.3L494.2 113.2L495.0 112.9L495.7 108.2L496.4 116.2L497.1 116.8L497.9 118.2L498.6 113.1L499.3 114.5L500.0 113.9L500.8 114.2L501.5 115.2L502.2 113.5L503.0 114.4L503.7 117.5L504.4 116.9L505.1 112.1L505.9 115.3L506.6 124.0L507.3 111.6L508.0 117.7L508.8 124.2L509.5 116.5L510.2 113.7L511.0 116.2L511.7 116.9L512.4 115.9L513.1 109.0L513.9 113.8L514.6 118.1L515.3 113.0L516.0 114.3L516.8 122.6L517.5 108.7L518.2 122.9L518.9 126.4L519.7 124.6L520.4 112.2L521.1 123.8L521.9 113.5L522.6 118.1L523.3 116.2L524.0 116.7L524.8 125.8L525.5 116.8L526.2 124.6L526.9 113.8L527.7 120.0L528.4 121.4L529.1 110.9L529.9 116.0L530.6 112.8L531.3 114.3L532.0 117.7L532.8 114.8L533.5 110.5L534.2 118.7L534.9 115.8L535.7 110.7L536.4 118.3L537.1 115.4L537.8 110.1L538.6 113.9L539.3 115.0L540.0 113.3L540.8 118.5L541.5 115.9L542.2 114.3L542.9 116.5L543.7 119.4L544.4 117.8L545.1 117.6L545.8 115.8L546.6 115.5L547.3 118.0L548.0 115.8L548.8 121.3L549.5 113.1L550.2 114.9L550.9 114.2L551.7 120.0L552.4 116.5L553.1 114.2L553.8 112.8L554.6 116.9L555.3 106.6L556.0 112.0L556.8 125.8L557.5 114.6L558.2 107.1L558.9 114.0L559.7 117.0L560.4 113.8L561.1 113.9L561.8 124.4L562.6 114.7L563.3 112.5L564.0 115.5L564.7 119.4L565.5 118.6L566.2 114.9L566.9 115.4L567.7 119.8L568.4 107.0L569.1 113.0L569.8 122.4L570.6 119.3L571.3 116.1L572.0 116.0L572.7 116.9L573.5 111.8L574.2 110.2L574.9 114.5L575.7 117.5L576.4 120.9L577.1 116.6L577.8 112.3L578.6 108.1L579.3 112.9L580.0 120.5L580.7 114.9L581.5 112.9L582.2 117.5L582.9 116.7L583.7 107.9L584.4 108.7L585.1 115.9L585.8 114.9L586.6 106.6L587.3 115.1L588.0 120.5L588.7 109.4L589.5 112.9L590.2 110.4L590.9 106.7L591.6 112.3L592.4 110.4L593.1 115.7L593.8 110.2L594.6 116.1L595.3 117.1L596.0 116.5L596.7 114.1L597.5 116.7L598.2 116.3L598.9 121.9L599.6 114.0L600.4 119.3L601.1 116.6L601.8 120.9L602.6 117.3L603.3 117.3L604.0 109.2L604.7 111.7L605.5 113.1L606.2 113.8L606.9 119.7L607.6 110.1L608.4 120.4L609.1 118.1L609.8 113.2L610.5 116.0L611.3 118.3L612.0 110.8L612.7 115.6L613.5 117.7L614.2 110.4L614.9 119.2L615.6 117.6L616.4 118.5L617.1 112.6L617.8 110.4L618.5 109.4L619.3 116.2L620.0 115.2L620.7 115.6L621.5 123.3L622.2 121.7L622.9 106.8L623.6 116.7L624.4 114.9L625.1 114.5L625.8 114.8L626.5 117.3L627.3 115.6L628.0 108.7L628.7 124.5L629.5 114.9L630.2 120.4L630.9 107.1L631.6 113.2L632.4 114.8L633.1 111.4L633.8 121.3L634.5 116.3L635.3 114.9L636.0 119.4L636.7 107.8L637.4 119.3L638.2 117.7L638.9 111.8L639.6 111.9L640.4 116.2L641.1 115.9L641.8 114.9L642.5 116.3L643.3 120.8L644.0 119.2L644.7 115.7L645.4 106.6L646.2 114.9L646.9 121.8L647.6 124.3L648.4 108.6L649.1 114.9L649.8 105.3L650.5 121.5L651.3 112.2L652.0 120.7L652.7 116.6L653.4 81.6L654.2 78.3L654.9 77.5L655.6 78.5L656.4 87.0L657.1 77.2L657.8 82.4L658.5 84.9L659.3 80.6L660.0 75.9L660.7 77.3L661.4 76.6L662.2 79.4L662.9 72.7L663.6 81.3L664.3 79.4L665.1 76.7L665.8 75.0L666.5 81.6L667.3 76.9L668.0 83.3L668.7 80.1L669.4 75.5L670.2 78.4L670.9 71.6L671.6 70.5L672.3 84.2L673.1 84.0L673.8 72.3L674.5 78.7L675.3 73.5L676.0 83.4L676.7 79.9L677.4 72.4L678.2 86.9L678.9 87.7L679.6 81.7L680.3 77.0L681.1 75.7L681.8 86.9L682.5 80.3L683.2 71.3L684.0 82.2L684.7 80.2L685.4 81.2L686.2 75.1L686.9 74.2L687.6 77.2L688.3 73.2L689.1 80.5L689.8 77.9L690.5 75.5L691.2 76.1L692.0 80.8L692.7 82.2L693.4 79.3L694.2 80.7L694.9 77.9L695.6 74.5L696.3 80.5L697.1 118.9L697.8 118.2L698.5 116.3L699.2 114.8L700.0 117.6L700.7 118.1L701.4 114.3L702.2 118.3L702.9 109.6L703.6 117.9L704.3 116.3L705.1 114.2L705.8 116.9L706.5 111.1L707.2 118.5L708.0 116.8L708.7 118.3L709.4 113.1L710.1 109.8L710.9 119.1L711.6 110.1L712.3 119.3L713.1 115.4L713.8 114.9L714.5 112.6L715.2 115.3L716.0 119.8L716.7 110.0L717.4 113.5L718.1 118.2L718.9 119.8L719.6 108.3L720.3 111.0L721.1 114.0L721.8 120.8L722.5 109.7L723.2 126.7L724.0 116.7L724.7 116.6L725.4 110.9L726.1 122.3L726.9 115.5L727.6 111.7L728.3 115.6L729.1 123.6L729.8 114.9L730.5 113.3L731.2 121.7L732.0 115.8L732.7 117.7L733.4 108.0L734.1 115.1L734.9 109.2L735.6 113.0L736.3 116.8L737.0 115.4L737.8 120.1L738.5 117.1L739.2 119.9L740.0 111.1L740.7 117.6L741.4 108.6L742.1 123.5L742.9 94.5L743.6 96.7L744.3 97.9L745.0 89.9L745.8 96.8L746.5 86.5L747.2 104.9L748.0 87.8L748.7 98.4L749.4 91.9L750.1 90.9L750.9 93.7L751.6 96.5L752.3 93.0L753.0 96.3L753.8 93.4L754.5 89.3L755.2 99.8L755.9 97.6L756.7 91.8L757.4 100.4L758.1 93.8L758.9 101.9L759.6 94.0L760.3 94.7L761.0 93.8L761.8 96.5L762.5 93.1L763.2 88.6L763.9 95.7L764.7 96.5L765.4 97.7L766.1 89.0L766.9 100.6L767.6 88.7L768.3 95.8L769.0 88.7L769.8 88.6L770.5 92.7L771.2 94.6L771.9 94.3L772.7 93.3L773.4 81.8L774.1 101.0L774.9 88.3L775.6 96.4L776.3 88.6L777.0 97.0L777.8 93.5L778.5 100.4L779.2 100.4L779.9 90.2L780.7 92.1L781.4 97.8L782.1 93.9L782.8 92.3L783.6 96.4L784.3 93.2L785.0 93.9L785.8 88.7L786.5 95.5L787.2 130.4L787.9 117.8L788.7 132.3L789.4 126.3L790.1 124.0L790.8 124.9L791.6 123.1L792.3 132.0L793.0 121.3L793.8 123.6L794.5 120.2L795.2 132.6L795.9 123.3L796.7 130.8L797.4 125.4L798.1 120.4L798.8 119.7L799.6 132.9L800.3 127.1L801.0 126.0L801.8 125.5L802.5 123.1L803.2 127.8L803.9 123.3L804.7 124.4L805.4 119.2L806.1 122.6L806.8 120.1L807.6 126.6L808.3 124.4L809.0 118.8L809.7 122.3L810.5 126.9L811.2 122.8L811.9 124.7L812.7 114.6L813.4 128.3L814.1 123.2L814.8 131.9L815.6 125.2L816.3 120.5L817.0 126.3L817.7 123.0L818.5 118.5L819.2 121.2L819.9 118.1L820.7 128.2L821.4 118.0L822.1 131.2L822.8 130.4L823.6 126.2L824.3 120.9L825.0 125.0L825.7 124.1L826.5 122.2L827.2 123.2L827.9 128.5L828.6 123.8L829.4 120.3L830.1 122.1L830.8 125.8L831.6 119.1L832.3 135.2L833.0 124.7L833.7 128.9L834.5 129.8L835.2 122.0L835.9 129.6L836.6 120.2L837.4 123.3L838.1 124.9L838.8 124.1L839.6 126.9L840.3 124.8L841.0 127.4L841.7 123.0L842.5 127.4L843.2 121.9L843.9 124.8L844.6 129.6L845.4 124.4L846.1 117.4L846.8 121.4L847.6 128.0L848.3 125.1L849.0 127.1L849.7 122.2L850.5 125.1L851.2 124.3L851.9 125.5L852.6 125.3L853.4 128.0L854.1 126.3L854.8 122.2L855.5 129.7L856.3 125.6L857.0 124.7L857.7 122.0L858.5 122.6L859.2 119.0L859.9 122.0L860.6 120.0L861.4 121.1L862.1 123.6L862.8 118.7L863.5 124.0L864.3 122.1L865.0 129.4L865.7 125.9" stroke="#989898" stroke-width="1.6"/>
<path d="M68.5 72.5h0M76.4 72.6h0M84.3 72.8h0M92.2 72.9h0M100.1 73.0h0M108.0 73.1h0M115.9 73.2h0M123.8 73.3h0M128.2 79.2h0M130.3 86.7h0M131.2 94.6h0M131.7 102.5h0M132.7 110.3h0M136.4 117.0h0M143.4 120.3h0M151.3 120.5h0M159.2 120.6h0M167.1 120.6h0M175.0 120.6h0M182.9 120.6h0M190.8 120.6h0M198.7 120.6h0M206.6 120.5h0M214.5 120.5h0M222.4 120.5h0M230.3 120.5h0M238.2 120.5h0M246.1 120.5h0M254.0 120.4h0M257.6 115.4h0M258.6 107.6h0M259.5 99.7h0M259.8 91.8h0M260.1 83.9h0M260.4 76.0h0M260.7 68.1h0M261.0 60.2h0M261.5 67.6h0M262.1 75.5h0M264.5 82.8h0M271.8 85.5h0M279.7 86.1h0M287.6 86.6h0M295.5 86.9h0M303.4 86.9h0M311.3 87.0h0M319.2 87.1h0M327.1 87.2h0M335.0 87.2h0M342.9 87.2h0M350.8 87.2h0M358.7 87.2h0M366.6 87.2h0M374.5 87.2h0M382.4 87.2h0M389.8 88.6h0M393.9 95.2h0M398.1 101.8h0M404.2 106.4h0M411.7 108.6h0M419.6 109.1h0M427.5 109.1h0M435.4 109.1h0M443.3 109.2h0M451.2 109.2h0M459.1 109.2h0M467.0 109.2h0M474.9 109.2h0M482.8 109.3h0M490.7 109.3h0M498.6 109.3h0M506.5 109.4h0M514.4 109.4h0M522.3 109.5h0M530.2 109.5h0M538.1 109.6h0M546.0 109.7h0M553.9 109.7h0M561.8 109.8h0M569.7 109.9h0M577.6 109.9h0M585.5 110.0h0M593.4 110.0h0M601.3 110.1h0M609.2 110.2h0M617.1 110.2h0M625.0 110.3h0M632.9 110.3h0M640.8 110.4h0M648.7 110.5h0M652.4 106.0h0M653.2 98.1h0M654.0 90.2h0M654.2 82.3h0M654.4 74.4h0M654.5 66.5h0M654.7 58.6h0M654.9 50.7h0M655.1 42.8h0M655.5 42.0h0M656.2 49.9h0M657.3 57.7h0M660.7 64.4h0M667.6 67.8h0M675.4 69.3h0M683.2 70.3h0M691.1 70.8h0M696.1 74.5h0M697.9 82.2h0M699.8 89.9h0M702.1 97.4h0M706.3 103.8h0M713.1 107.6h0M720.8 109.1h0M728.7 109.3h0M736.6 109.7h0M741.9 107.1h0M742.9 99.2h0M743.6 91.4h0M743.8 83.5h0M744.0 75.6h0M744.2 67.7h0M744.4 60.2h0M745.1 68.1h0M746.2 75.9h0M749.4 82.3h0M756.7 85.3h0M764.4 86.6h0M772.3 86.9h0M780.2 87.0h0M785.8 90.3h0M787.8 97.9h0M789.2 105.7h0M792.2 112.5h0M798.9 116.0h0M806.8 116.9h0M814.6 117.8h0M822.5 118.3h0M830.4 118.6h0M838.3 118.8h0M846.2 118.9h0M854.1 119.0h0M862.0 119.1h0M655.3 38.7h0M261.0 60.3h0M744.4 60.3h0M128.9 161.0h0M261.0 150.0h0M392.0 140.5h0M655.0 150.4h0M700.0 144.7h0M744.4 144.0h0M788.4 158.7h0" stroke="#111" stroke-width="2.35" stroke-linecap="round"/>
<path d="M71.3 89.2h0M79.2 88.9h0M87.1 88.7h0M95.0 88.6h0M102.9 88.4h0M110.8 88.3h0M118.7 88.1h0M125.2 89.6h0M126.2 97.4h0M126.6 105.3h0M126.8 113.2h0M127.0 121.1h0M128.0 128.9h0M128.4 136.8h0M128.7 144.7h0M128.8 152.6h0M128.9 160.5h0M130.4 153.8h0M133.1 146.4h0M138.9 141.2h0M146.5 138.9h0M154.3 138.1h0M162.2 137.1h0M169.9 135.5h0M177.8 134.9h0M185.7 134.6h0M193.6 134.5h0M201.5 134.4h0M209.3 134.1h0M217.2 133.9h0M225.1 133.6h0M233.0 133.4h0M240.9 133.2h0M248.8 133.1h0M256.7 133.0h0M260.1 139.8h0M260.8 147.7h0M261.4 144.5h0M261.9 136.6h0M262.8 128.7h0M265.3 121.2h0M267.2 113.6h0M272.4 107.8h0M279.5 104.5h0M287.4 103.8h0M295.3 103.2h0M303.2 102.6h0M311.0 102.2h0M318.9 101.9h0M326.8 101.6h0M334.7 101.3h0M342.6 101.0h0M350.5 100.7h0M358.4 100.5h0M366.3 100.2h0M374.2 100.0h0M382.1 99.8h0M388.8 101.4h0M390.7 108.9h0M391.1 116.8h0M391.5 124.7h0M391.8 132.6h0M392.0 140.5h0M393.6 132.8h0M398.3 126.8h0M405.9 125.0h0M413.5 122.9h0M421.3 122.4h0M429.2 122.3h0M437.1 122.2h0M445.0 122.1h0M452.9 122.1h0M460.8 122.0h0M468.7 121.9h0M476.6 121.8h0M484.5 121.7h0M492.4 121.6h0M500.3 121.5h0M508.2 121.5h0M516.1 121.5h0M524.0 121.5h0M531.9 121.5h0M539.8 121.5h0M547.7 121.5h0M555.6 121.5h0M563.5 121.5h0M571.4 121.5h0M579.3 121.5h0M587.2 121.5h0M595.1 121.5h0M603.0 121.5h0M610.9 121.5h0M618.8 121.5h0M626.7 121.5h0M634.6 121.5h0M642.5 121.5h0M650.4 121.5h0M652.9 127.7h0M654.0 135.6h0M654.5 143.5h0M655.0 149.5h0M655.4 141.6h0M655.8 133.7h0M656.5 125.8h0M657.4 118.0h0M658.4 110.1h0M662.1 103.2h0M666.4 96.5h0M673.2 92.6h0M680.8 90.6h0M688.5 89.0h0M696.0 88.6h0M697.0 96.5h0M697.7 104.3h0M698.0 112.2h0M698.4 120.1h0M698.8 128.0h0M699.4 135.9h0M699.9 143.8h0M700.6 137.8h0M702.4 130.1h0M708.0 124.8h0M715.7 123.8h0M723.6 123.2h0M731.5 122.6h0M739.4 122.3h0M743.0 128.1h0M743.7 136.0h0M744.4 143.9h0M745.1 136.2h0M746.0 128.4h0M747.2 120.6h0M749.4 113.1h0M754.3 107.3h0M761.5 104.4h0M769.3 103.1h0M777.2 102.2h0M785.0 101.4h0M786.1 108.2h0M786.2 116.1h0M786.3 124.0h0M786.6 131.9h0M787.1 139.8h0M787.6 147.7h0M788.1 155.6h0M788.9 154.0h0M790.0 146.1h0M792.1 138.5h0M796.9 132.7h0M804.1 130.8h0M812.0 130.7h0M819.9 130.7h0M827.8 130.7h0M835.7 130.6h0M843.6 130.6h0M851.5 130.6h0M859.4 130.5h0" stroke="#111" stroke-width="2.35" stroke-linecap="round"/>
<path d="M65.5 81.8L80.0 81.2L100.0 80.6L126.0 80.3L126.8 95.0L127.5 110.0L128.5 121.0L129.5 125.5L131.0 128.5L133.0 130.3L140.0 130.6L150.0 130.4L156.7 128.9L166.7 128.0L180.0 127.5L220.0 127.2L250.0 126.6L258.0 126.6L258.9 121.0L260.2 109.0L262.8 103.0L266.7 99.6L272.0 97.2L278.6 95.7L290.0 94.6L340.0 93.8L390.0 93.3L391.0 105.0L392.0 117.7L394.0 113.5L396.0 114.5L399.4 115.6L410.0 115.8L653.0 115.8L653.4 98.5L655.9 90.0L658.4 85.0L661.7 82.6L668.4 80.9L681.7 79.7L696.0 79.2L696.6 79.3L697.0 90.0L697.9 119.4L700.0 116.0L703.0 114.4L711.5 115.8L741.6 115.8L742.6 115.5L743.7 109.4L745.9 99.3L748.7 96.5L754.5 94.5L786.8 94.3L787.5 110.0L788.3 126.0L794.3 123.7L800.0 122.7L805.8 123.0L811.5 124.4L823.0 125.0L865.2 125.0" stroke="#0a0a0a" stroke-width="1.8"/>
</g>
<rect x="65.3" y="22.5" width="800.5" height="161.3" fill="none" stroke="#111" stroke-width="1.8"/>
<line x1="65.3" y1="160.8" x2="73.9" y2="160.8" stroke="#222" stroke-width="1.1"/>
<line x1="858.2" y1="160.8" x2="865.8" y2="160.8" stroke="#222" stroke-width="1.1"/>
<line x1="65.3" y1="137.7" x2="73.9" y2="137.7" stroke="#222" stroke-width="1.1"/>
<line x1="858.2" y1="137.7" x2="865.8" y2="137.7" stroke="#222" stroke-width="1.1"/>
<line x1="65.3" y1="114.7" x2="73.9" y2="114.7" stroke="#222" stroke-width="1.1"/>
<line x1="858.2" y1="114.7" x2="865.8" y2="114.7" stroke="#222" stroke-width="1.1"/>
<line x1="65.3" y1="91.6" x2="73.9" y2="91.6" stroke="#222" stroke-width="1.1"/>
<line x1="858.2" y1="91.6" x2="865.8" y2="91.6" stroke="#222" stroke-width="1.1"/>
<line x1="65.3" y1="68.6" x2="73.9" y2="68.6" stroke="#222" stroke-width="1.1"/>
<line x1="858.2" y1="68.6" x2="865.8" y2="68.6" stroke="#222" stroke-width="1.1"/>
<line x1="65.3" y1="45.5" x2="73.9" y2="45.5" stroke="#222" stroke-width="1.1"/>
<line x1="858.2" y1="45.5" x2="865.8" y2="45.5" stroke="#222" stroke-width="1.1"/>
<text id="v0" class="tk" x="59.8" y="188.5" text-anchor="end">0.9</text>
<text id="v1" class="tk" x="59.8" y="165.5" text-anchor="end">1.0</text>
<text id="v2" class="tk" x="59.8" y="142.4" text-anchor="end">1.1</text>
<text id="v3" class="tk" x="59.8" y="119.4" text-anchor="end">1.2</text>
<text id="v4" class="tk" x="59.8" y="96.3" text-anchor="end">1.3</text>
<text id="v5" class="tk" x="59.8" y="73.3" text-anchor="end">1.4</text>
<text id="v6" class="tk" x="59.8" y="50.2" text-anchor="end">1.5</text>
<text id="v7" class="tk" x="59.8" y="27.2" text-anchor="end">1.6</text>
<text id="exp" class="tk" x="65.8" y="15.2" text-anchor="start">x1e5</text>
<g transform="translate(22.5 103.4) rotate(-90)"><text id="nuc" class="lb" x="0" y="0" text-anchor="middle" textLength="147.3" lengthAdjust="spacingAndGlyphs">Nuclear Response</text></g>
</svg></body></html>
